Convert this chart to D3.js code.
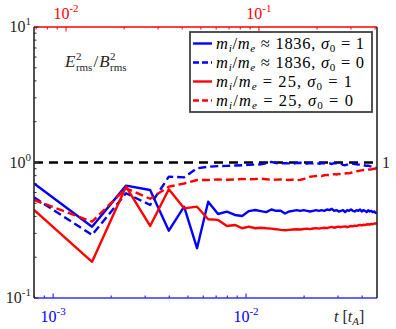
<!DOCTYPE html>
<html><head><meta charset="utf-8">
<script src="https://cdn.jsdelivr.net/npm/d3@7"></script>
<style>body{margin:0;background:#fff}svg{display:block}</style>
</head><body><svg id="c" width="396" height="329" font-family="'Liberation Serif','DejaVu Serif','Times New Roman',serif"></svg>
<script>
// time samples t [t_A]
const times = [0.000796,0.001592,0.002388,0.003184,0.00398,0.004776,0.005572,0.006368,0.007164,0.00796,
0.008756,0.009552,0.010348,0.011144,0.01194,0.012736,0.013532,0.014328,0.015124,0.01592,
0.016716,0.017512,0.018308,0.019104,0.0199,0.020696,0.021492,0.022288,0.023084,0.02388,
0.024676,0.025472,0.026268,0.027064,0.02786,0.028656,0.029452,0.030248,0.031044,0.03184,
0.032636,0.033432,0.034228,0.035024,0.03582,0.036616,0.037412,0.038208,0.039004,0.0398,
0.040596,0.041392,0.042188,0.042984,0.04378,0.044576,0.045372,0.046168,0.046964,0.04776];
const mi1836_s1 = [0.70,0.336,0.675,0.627,0.314,0.472,0.233,0.514,0.417,0.434,
0.41,0.403,0.438,0.446,0.438,0.43,0.45,0.44,0.44,0.42,
0.435,0.44,0.445,0.44,0.445,0.44,0.435,0.44,0.445,0.44,
0.445,0.44,0.45,0.445,0.455,0.44,0.445,0.435,0.44,0.445,
0.43,0.445,0.44,0.45,0.44,0.435,0.445,0.44,0.45,0.435,
0.445,0.44,0.43,0.445,0.435,0.44,0.43,0.435,0.425,0.425];
const mi1836_s0 = [0.553,0.292,0.593,0.486,0.786,0.777,0.906,0.93,0.94,0.945,
0.95,0.955,0.96,0.965,0.97,0.985,1.01,0.99,0.985,0.99,
0.985,0.98,0.99,0.995,0.985,0.98,0.99,0.985,0.995,0.98,
0.985,0.99,0.98,0.985,0.975,0.99,0.985,0.975,0.985,0.96,
0.955,0.965,0.975,0.97,0.98,0.975,0.97,0.965,0.97,0.96,
0.955,0.95,0.945,0.95,0.94,0.935,0.93,0.92,0.915,0.905];
const mi25_s1 = [0.446,0.185,0.663,0.34,0.634,0.459,0.472,0.381,0.377,0.34,
0.346,0.327,0.336,0.327,0.33,0.327,0.325,0.322,0.318,0.316,
0.318,0.32,0.322,0.32,0.323,0.325,0.322,0.326,0.328,0.325,
0.328,0.33,0.328,0.332,0.335,0.33,0.334,0.336,0.333,0.336,
0.338,0.333,0.337,0.34,0.338,0.342,0.34,0.344,0.346,0.343,
0.347,0.345,0.349,0.35,0.348,0.352,0.35,0.354,0.355,0.356];
const mi25_s0 = [0.529,0.366,0.645,0.54,0.663,0.70,0.743,0.743,0.75,0.745,
0.75,0.755,0.752,0.755,0.76,0.752,0.745,0.748,0.75,0.745,
0.742,0.748,0.74,0.745,0.755,0.77,0.785,0.79,0.795,0.8,
0.795,0.805,0.81,0.805,0.815,0.82,0.815,0.825,0.82,0.825,
0.83,0.835,0.832,0.84,0.845,0.85,0.86,0.865,0.87,0.875,
0.88,0.88,0.885,0.89,0.885,0.89,0.895,0.9,0.895,0.89];
const refLevel = 1;
const massRatioFactor = Math.sqrt(1836/25); // top axis: t * sqrt(mi/me ratio)
const bottomTicks = [1e-3,1e-2], bottomExp = ["-3","-2"];
const topTicks = [1e-2,1e-1], topExp = ["-2","-1"];
const yTicks = [0.1,1,10], yExp = ["-1","0","1"];

const series = [
  {data: mi1836_s1, color:"#0000ff", dash:null, ratio:"≈ 1836", s:"1", w:148},
  {data: mi1836_s0, color:"#0000ff", dash:"8,4", ratio:"≈ 1836", s:"0", w:148},
  {data: mi25_s1, color:"#ff0000", dash:null, ratio:"= 25", s:"1", w:136},
  {data: mi25_s0, color:"#ff0000", dash:"8,4", ratio:"= 25", s:"0", w:137}
];

const svg = d3.select("#c");
const L=34, R=377, T=27, B=298;
const x = d3.scaleLog().domain([times[0], times[times.length-1]]).range([L,R]);
const xTop = d3.scaleLog().domain([times[0]*massRatioFactor, times[times.length-1]*massRatioFactor]).range([L,R]);
const y = d3.scaleLog().domain([0.1,10]).range([B,T]);

svg.append("rect").attr("x",0).attr("y",0).attr("width",396).attr("height",329).attr("fill","#fff");
svg.append("defs").append("clipPath").attr("id","clip").append("rect").attr("x",L).attr("y",T).attr("width",R-L).attr("height",B-T);

// reference dashed line
svg.append("line").attr("x1",L).attr("x2",R).attr("y1",y(refLevel)).attr("y2",y(refLevel))
  .attr("stroke","#000").attr("stroke-width",2.5).attr("stroke-dasharray","9,6");

const line = d3.line().x((d,i)=>x(times[i])).y(d=>y(d));
const g = svg.append("g").attr("clip-path","url(#clip)");
series.forEach(s=>{
  g.append("path").attr("d",line(s.data)).attr("fill","none").attr("stroke",s.color)
   .attr("stroke-width",2.4).attr("stroke-linejoin","round")
   .attr("stroke-dasharray",s.dash);
});

function minorTicks(scale){
  const [a,b]=scale.domain(); const out=[];
  for(let e=Math.floor(Math.log10(a));e<=Math.ceil(Math.log10(b));e++)
    for(let m=1;m<10;m++){const v=m*Math.pow(10,e); if(v>=a*0.999&&v<=b*1.001) out.push({v,major:m===1});}
  return out;
}
// bottom axis (blue)
const gb = svg.append("g");
minorTicks(x).forEach(t=>{
  gb.append("line").attr("x1",x(t.v)).attr("x2",x(t.v)).attr("y1",B).attr("y2",B-(t.major?4.5:2.5)).attr("stroke","#0000ff").attr("stroke-width",1);
});
gb.append("line").attr("x1",L).attr("x2",R).attr("y1",B).attr("y2",B).attr("stroke","#3333ff").attr("stroke-width",1.6);
// top axis (red)
const gt = svg.append("g");
minorTicks(xTop).forEach(t=>{
  gt.append("line").attr("x1",xTop(t.v)).attr("x2",xTop(t.v)).attr("y1",T).attr("y2",T+(t.major?4.5:2.5)).attr("stroke","#ff0000").attr("stroke-width",1);
});
gt.append("line").attr("x1",L).attr("x2",R).attr("y1",T).attr("y2",T).attr("stroke","#ff0000").attr("stroke-width",1.6);
// left axis
const gl = svg.append("g");
minorTicks(y).forEach(t=>{
  gl.append("line").attr("x1",L).attr("x2",L+(t.major?4.5:2.5)).attr("y1",y(t.v)).attr("y2",y(t.v)).attr("stroke","#262626").attr("stroke-width",1);
});
gl.append("line").attr("x1",L).attr("x2",L).attr("y1",T).attr("y2",B).attr("stroke","#262626").attr("stroke-width",1.6);
// right axis
svg.append("line").attr("x1",R).attr("x2",R).attr("y1",T).attr("y2",B).attr("stroke","#262626").attr("stroke-width",1.6);

function powLabel(parent, xx, yy, exp, color, anchor){
  const t = parent.append("text").attr("x",xx).attr("y",yy).attr("fill",color).attr("font-size",16).attr("text-anchor",anchor);
  t.append("tspan").text("10");
  t.append("tspan").attr("dy",-7).attr("font-size",11).text(exp);
  return t;
}
bottomTicks.forEach((v,i)=>powLabel(svg, x(v), 322, bottomExp[i], "#0000ff","middle"));
topTicks.forEach((v,i)=>powLabel(svg, xTop(v), 19, topExp[i], "#ff0000","middle"));
yTicks.forEach((v,i)=>powLabel(svg, 31, y(v)+5, yExp[i], "#262626","end"));
svg.append("text").attr("x",382).attr("y",y(refLevel)+5).attr("font-size",16).attr("fill","#262626").text(String(refLevel));

// x label t [t_A]
const xl = svg.append("text").attr("x",334).attr("y",322).attr("font-size",16).attr("fill","#262626");
xl.append("tspan").attr("font-style","italic").text("t");
xl.append("tspan").text(" [");
xl.append("tspan").attr("font-style","italic").text("t");
xl.append("tspan").attr("font-style","italic").attr("font-size",11).attr("dy",3).text("A");
xl.append("tspan").attr("dy",-3).text("]");

// y label E^2_rms / B^2_rms
function stacked(parent, xx, yy, letter){
  const t=parent.append("text").attr("x",xx).attr("y",yy).attr("font-size",17).attr("font-style","italic").attr("fill","#262626").text(letter);
  const w=t.node().getComputedTextLength();
  parent.append("text").attr("x",xx+w+0.5).attr("y",yy-7).attr("font-size",11).attr("fill","#262626").text("2");
  const s=parent.append("text").attr("x",xx+w+0.5).attr("y",yy+4).attr("font-size",11).attr("fill","#262626").text("rms");
  return xx+w+0.5+s.node().getComputedTextLength();
}
const yl = svg.append("g");
let xe = stacked(yl, 65, 67, "E");
const sl = yl.append("text").attr("x",xe+1).attr("y",67).attr("font-size",17).attr("fill","#262626").text("/");
xe = xe+1+sl.node().getComputedTextLength()+1;
stacked(yl, xe, 67, "B");

// legend
const lg = svg.append("g");
lg.append("rect").attr("x",190).attr("y",32).attr("width",182).attr("height",80).attr("fill","#fff").attr("stroke","#404040").attr("stroke-width",1.8);
series.forEach((s,i)=>{
  const yy = 43.5 + i*19;
  lg.append("line").attr("x1",193).attr("x2",212).attr("y1",yy).attr("y2",yy).attr("stroke",s.color).attr("stroke-width",2.4).attr("stroke-dasharray",s.dash?"6,3":null);
  const t = lg.append("text").attr("x",216).attr("y",yy+5).attr("font-size",16.5).attr("fill","#000")
    .attr("textLength",s.w).attr("lengthAdjust","spacing");
  t.append("tspan").attr("font-style","italic").text("m");
  t.append("tspan").attr("font-style","italic").attr("font-size",11).attr("dy",3).text("i");
  t.append("tspan").attr("dy",-3).text("/");
  t.append("tspan").attr("font-style","italic").text("m");
  t.append("tspan").attr("font-style","italic").attr("font-size",11).attr("dy",3).text("e");
  t.append("tspan").attr("dy",-3).text(" "+s.ratio+", ");
  t.append("tspan").attr("font-style","italic").text("σ");
  t.append("tspan").attr("font-size",11).attr("dy",3).text("0");
  t.append("tspan").attr("dy",-3).text(" = "+s.s);
});
</script></body></html>
